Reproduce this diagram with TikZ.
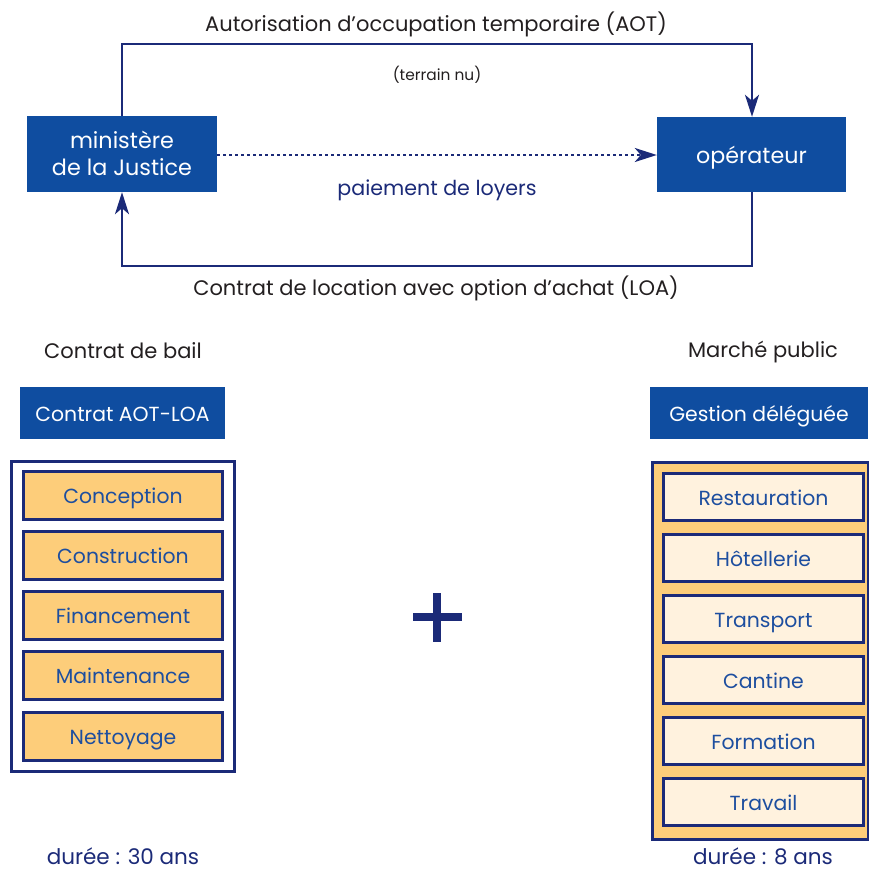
\documentclass[tikz,border=0pt]{standalone}
\usepackage{fontspec}
\setmainfont{Poppins}
\usetikzlibrary{arrows.meta,positioning}
\definecolor{boxblue}{HTML}{0F4DA0}
\definecolor{navy}{HTML}{1B2A78}
\definecolor{itemtext}{HTML}{1D4E9F}
\definecolor{orangefill}{HTML}{FDCD7A}
\definecolor{creamfill}{HTML}{FFF2DE}
\definecolor{labeltext}{HTML}{231F20}
\tikzset{
  bluebox/.style={fill=boxblue,text=white,inner sep=0pt,align=center,text depth=0pt},
  headlabel/.style={text=labeltext,inner sep=0pt,anchor=base,font=\fontsize{21}{24}\selectfont},
  itembox/.style={draw=navy,line width=2.5pt,text=itemtext,inner sep=0pt,text depth=0pt,font=\fontsize{20.4}{23}\selectfont},
  leftitem/.style={itembox,fill=orangefill,minimum width=199pt,minimum height=48pt,text height=15pt},
  rightitem/.style={itembox,fill=creamfill,minimum width=200pt,minimum height=47pt,text height=17pt},
  flowline/.style={draw=navy,line width=2.3pt},
  tip/.style={-{Stealth[length=22pt,width=14pt,inset=6pt]}},
  bluelabel/.style={text=navy,inner sep=0pt,anchor=base,font=\fontsize{20.6}{23}\selectfont},
  durlabel/.style={bluelabel,text depth=0pt,text height=15pt,font=\fontsize{21.5}{24}\selectfont},
  whitetext/.style={text=white,inner sep=0pt,anchor=base,font=\fontsize{22.3}{25}\selectfont},
}
\begin{document}
\begin{tikzpicture}[x=1pt,y=-1pt]
\useasboundingbox (0,0) rectangle (868,870);
% top diagram
\node[bluebox,minimum width=190pt,minimum height=76pt] (min) at (122,154) {};
\node[whitetext] (min1) at (122,148) {ministère};
\node[whitetext] (min2) at (122,175) {de la Justice};
\node[bluebox,minimum width=189pt,minimum height=75pt,text height=17pt,font=\fontsize{22.2}{25}\selectfont] (op) at (751.5,154.5) {opérateur};
\coordinate (tl) at (122,44);
\coordinate (tr) at (752,44);
\coordinate (bl) at (122,266);
\coordinate (br) at (752,266);
\draw[flowline,tip] (min.north) -- (tl) -- (tr) -- (op.north -| tr);
\draw[flowline,tip] (op.south -| br) -- (br) -- (bl) -- (min.south);
\draw[navy,line width=2.3pt,dash pattern=on 2.3pt off 3.7pt,tip] (min.east |- 0,155) -- (op.west |- 0,155);
\node[headlabel] (aot) at (436,31) {Autorisation d’occupation temporaire (AOT)};
\node[text=labeltext,inner sep=0pt,anchor=base,font=\fontsize{15.4}{18}\selectfont] (tn) at (437,80) {(terrain nu)};
\node[bluelabel] (pay) at (437,195) {paiement de loyers};
\node[headlabel] (loa) at (436,295) {Contrat de location avec option d’achat (LOA)};
% left column
\node[headlabel] (bail) at (123,358) {Contrat de bail};
\node[bluebox,minimum width=205pt,minimum height=52pt,text height=16pt,font=\fontsize{20.4}{23}\selectfont] (aotloa) at (122.5,413) {Contrat AOT-LOA};
\node[draw=navy,line width=3pt,fill=white,minimum width=223pt,minimum height=310pt,inner sep=0pt] (lframe) at (123,616.5) {};
\node[leftitem] (c1) at (123,495.5) {Conception};
\node[leftitem] (c2) at (123,555.5) {Construction};
\node[leftitem] (c3) at (123,615.5) {Financement};
\node[leftitem] (c4) at (123,675.5) {Maintenance};
\node[leftitem] (c5) at (123,736.5) {Nettoyage};
\node[durlabel] (d30) at (123,864) {durée : 30 ans};
% right column
\node[headlabel] (mp) at (763,357) {Marché public};
\node[bluebox,minimum width=218pt,minimum height=52pt,text height=16pt,font=\fontsize{20.4}{23}\selectfont] (gd) at (759,413) {Gestion déléguée};
\node[draw=navy,line width=3pt,fill=orangefill,minimum width=216pt,minimum height=377pt,inner sep=0pt] (rframe) at (760,651) {};
\node[rightitem] (r1) at (763.5,497) {Restauration};
\node[rightitem] (r2) at (763.5,558) {Hôtellerie};
\node[rightitem] (r3) at (763.5,619) {Transport};
\node[rightitem] (r4) at (763.5,680) {Cantine};
\node[rightitem] (r5) at (763.5,741) {Formation};
\node[rightitem] (r6) at (763.5,802) {Travail};
\node[durlabel] (d8) at (763,864) {durée : 8 ans};
% plus sign
\node[fill=navy,minimum width=8pt,minimum height=49pt,inner sep=0pt] (pv) at (437,617) {};
\node[fill=navy,minimum width=49pt,minimum height=8pt,inner sep=0pt] (ph) at (437,617) {};
\end{tikzpicture}
\end{document}
